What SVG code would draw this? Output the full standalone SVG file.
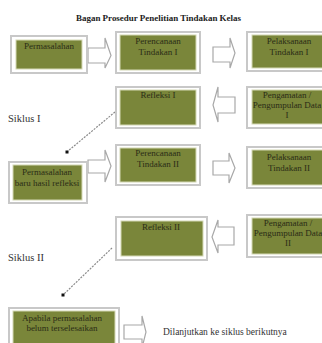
<svg xmlns="http://www.w3.org/2000/svg" width="322" height="343" viewBox="0 0 322 343">
<style>
.frame{fill:#ffffff;stroke:#c8c8c8;stroke-width:2}
.inner{fill:#7a863a;stroke:#d4d8b4;stroke-width:1}
.t{font-family:"Liberation Serif","Times New Roman",serif;font-size:9px;fill:#2a2c16;text-anchor:middle}
.lbl{font-family:"Liberation Serif","Times New Roman",serif;font-size:10.5px;fill:#333333}
.title{font-family:"Liberation Serif","Times New Roman",serif;font-size:9px;font-weight:bold;fill:#222222;text-anchor:middle}
.arr{fill:#ffffff;stroke:#a8a8a8;stroke-width:1.2;stroke-linejoin:miter}
.dash{fill:none;stroke:#8a8a8a;stroke-width:1.2;stroke-dasharray:2 1.2}
</style>
<rect width="322" height="343" fill="#ffffff"/>
<g id="title"><text class="title" x="158.5" y="21" textLength="165" lengthAdjust="spacingAndGlyphs">Bagan Prosedur Penelitian Tindakan Kelas</text></g>

<g id="connectors">
  <path class="arr" d="M88,48 H105 V38 L111,55.5 L105,68 V63 H88 Z"/>
  <path class="arr" d="M213,47 H230 V38 L235,53 L230,68 V62 H213 Z"/>
  <path class="arr" d="M235,97 H218 V87 L213,105 L218,122 V113 H235 Z"/>
  <path class="arr" d="M88,160 H105 V150 L111,166 L105,182 V173 H88 Z"/>
  <path class="arr" d="M213,161 H229 V153 L235,168 L229,183 V175 H213 Z"/>
  <path class="arr" d="M234,227 H218 V220 L212,237 L218,253 V245 H234 Z"/>
  <path class="arr" d="M124,325 H142 V316 L146,332 L142,348 V339 H124 Z"/>
  <line class="dash" x1="115" y1="112" x2="68" y2="151"/>
  <rect x="65.5" y="150.5" width="3" height="3" fill="#111111"/>
  <line class="dash" x1="112" y1="248" x2="64" y2="294"/>
  <rect x="61.5" y="293.5" width="3" height="3" fill="#111111"/>
</g>

<g id="node-permasalahan">
  <rect class="frame" x="11" y="36" width="76" height="37"/>
  <rect class="inner" x="16" y="40" width="66" height="29"/>
  <text class="t" x="49" y="49">Permasalahan</text>
</g>
<g id="node-perencanaan1">
  <rect class="frame" x="116" y="32" width="84" height="41"/>
  <rect class="inner" x="120" y="35" width="76" height="35"/>
  <text class="t" x="158" y="44">Perencanaan</text>
  <text class="t" x="158" y="55">Tindakan I</text>
</g>
<g id="node-pelaksanaan1">
  <rect class="frame" x="247" y="32" width="80" height="39"/>
  <rect class="inner" x="252" y="35" width="74" height="33"/>
  <text class="t" x="289" y="44">Pelaksanaan</text>
  <text class="t" x="289" y="55">Tindakan I</text>
</g>
<g id="node-refleksi1">
  <rect class="frame" x="116" y="87" width="84" height="41"/>
  <rect class="inner" x="120" y="90" width="76" height="35"/>
  <text class="t" x="158" y="98">Refleksi I</text>
</g>
<g id="node-pengamatan1">
  <rect class="frame" x="247" y="87" width="80" height="41"/>
  <rect class="inner" x="252" y="90" width="74" height="34"/>
  <text class="t" x="287" y="98">Pengamatan /</text>
  <text class="t" x="287" y="108">Pengumpulan Data</text>
  <text class="t" x="287" y="118">I</text>
</g>
<g id="label-siklus1"><text class="lbl" x="8" y="122">Siklus I</text></g>
<g id="node-permasalahan-baru">
  <rect class="frame" x="9" y="162" width="78" height="41"/>
  <rect class="inner" x="13" y="165" width="69" height="35"/>
  <text class="t" x="47" y="175">Permasalahan</text>
  <text class="t" x="47" y="186">baru hasil refleksi</text>
</g>
<g id="node-perencanaan2">
  <rect class="frame" x="116" y="145" width="84" height="40"/>
  <rect class="inner" x="120" y="148" width="76" height="34"/>
  <text class="t" x="158" y="156">Perencanaan</text>
  <text class="t" x="158" y="167">Tindakan II</text>
</g>
<g id="node-pelaksanaan2">
  <rect class="frame" x="247" y="147" width="80" height="41"/>
  <rect class="inner" x="252" y="150" width="74" height="35"/>
  <text class="t" x="289" y="160">Pelaksanaan</text>
  <text class="t" x="289" y="171">Tindakan II</text>
</g>
<g id="node-refleksi2">
  <rect class="frame" x="116" y="217" width="91" height="43"/>
  <rect class="inner" x="121" y="221" width="82" height="35"/>
  <text class="t" x="161" y="230">Refleksi II</text>
</g>
<g id="node-pengamatan2">
  <rect class="frame" x="247" y="215" width="80" height="42"/>
  <rect class="inner" x="252" y="218" width="74" height="36"/>
  <text class="t" x="288" y="226">Pengamatan /</text>
  <text class="t" x="288" y="236">Pengumpulan Data</text>
  <text class="t" x="288" y="246">II</text>
</g>
<g id="label-siklus2"><text class="lbl" x="8" y="261">Siklus II</text></g>
<g id="node-apabila">
  <rect class="frame" x="9" y="308" width="110" height="40"/>
  <rect class="inner" x="13" y="311" width="102" height="36"/>
  <text class="t" x="62" y="321">Apabila permasalahan</text>
  <text class="t" x="62" y="331">belum terselesaikan</text>
</g>
<g id="label-lanjut"><text class="lbl" x="163" y="335" style="font-size:9.5px">Dilanjutkan ke siklus berikutnya</text></g>
</svg>
